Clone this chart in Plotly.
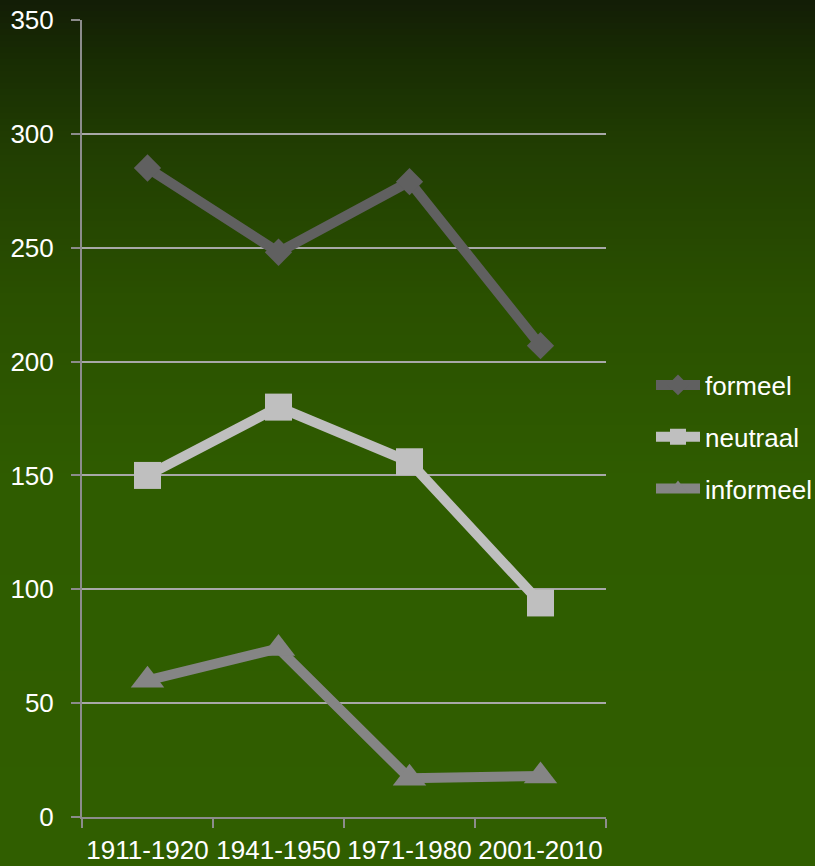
import plotly.graph_objects as go

categories = ["1911-1920", "1941-1950", "1971-1980", "2001-2010"]
formeel = [285, 248, 279, 207]
neutraal = [150, 180, 156, 94]
informeel = [60, 74, 17, 18]
y_ticks = [0, 50, 100, 150, 200, 250, 300, 350]

W, H = 815, 866
L, R, T, B = 82, 209, 20, 49
pw, ph = W - L - R, H - T - B

fig = go.Figure()

series = [
    ("formeel", formeel, "#606060", "diamond", 21),
    ("neutraal", neutraal, "#bfbfbf", "square", 27),
    ("informeel", informeel, "#858585", "triangle-up", 29),
]
for name, vals, col, sym, size in series:
    fig.add_trace(go.Scatter(
        x=categories, y=vals, name=name, mode="lines+markers",
        line=dict(color=col, width=10),
        marker=dict(symbol=sym, size=size, color=col),
        legendgroup=name,
    ))

# background gradient as horizontal strips
stops = [(0, (19, 29, 6)), (60, (24, 44, 3)), (150, (33, 62, 2)),
         (300, (42, 80, 0)), (480, (47, 92, 0)), (866, (48, 94, 0))]

def col_at(y):
    for (y0, c0), (y1, c1) in zip(stops[:-1], stops[1:]):
        if y0 <= y <= y1:
            t = (y - y0) / (y1 - y0)
            return tuple(round(a + (b - a) * t) for a, b in zip(c0, c1))
    return stops[-1][1]

shapes = []
step = 6
for yy in range(0, H, step):
    c = col_at(yy + step / 2)
    y_top = 1 - (yy - 1 - T) / ph
    y_bot = 1 - (yy + step + 1 - T) / ph
    shapes.append(dict(type="rect", xref="paper", yref="paper",
                       x0=-L / pw - 0.01, x1=1 + R / pw + 0.01,
                       y0=y_bot, y1=y_top, layer="below",
                       line=dict(width=0), fillcolor="rgb(%d,%d,%d)" % c))

fig.update_layout(
    width=W, height=H,
    margin=dict(l=L, r=R, t=T, b=B, autoexpand=False),
    paper_bgcolor="#2f5e00",
    plot_bgcolor="rgba(0,0,0,0)",
    shapes=shapes,
    font=dict(family="Liberation Sans, Arial, sans-serif", size=26, color="white"),
    showlegend=True,
    legend=dict(x=(651 - L) / pw, xanchor="left", y=(H - B - 437) / ph, yanchor="middle",
                font=dict(size=26, color="white"), tracegroupgap=15,
                bgcolor="rgba(0,0,0,0)", itemwidth=44),
    xaxis=dict(type="category", range=[-0.5, 3.5], tickson="boundaries",
               showgrid=False, showline=True, linecolor="#8c8c8c", linewidth=2,
               ticks="outside", ticklen=9, tickcolor="#8c8c8c", tickwidth=2,
               tickangle=0, automargin=False, ticklabelstandoff=9,
               tickfont=dict(size=26, color="white")),
    yaxis=dict(range=[0, 350], tickvals=y_ticks, showgrid=True,
               gridcolor="#a8a8a8", gridwidth=1.5, zeroline=False,
               showline=True, linecolor="#8c8c8c", linewidth=2,
               ticks="outside", ticklen=9, tickcolor="#8c8c8c", tickwidth=2,
               ticklabelstandoff=12, automargin=False,
               tickfont=dict(size=26, color="white")),
)

fig.write_html("out.html")
